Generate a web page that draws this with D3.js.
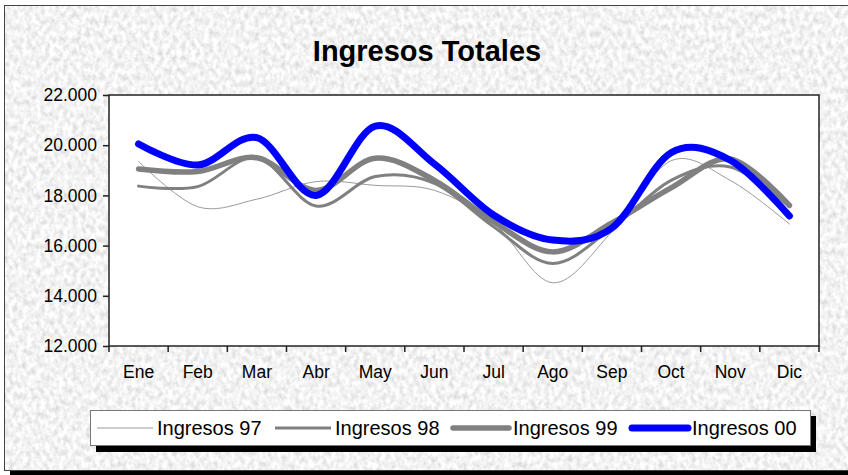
<!DOCTYPE html>
<html>
<head>
<meta charset="utf-8">
<script src="https://d3js.org/d3.v7.min.js"></script>
<style>
	body { margin: 0; background: #ffffff; }
	svg { display: block; font-family: "Liberation Sans", Arial, sans-serif; }
</style>
</head>
<body>
<script>

var meses = ["Ene", "Feb", "Mar", "Abr", "May", "Jun", "Jul", "Ago", "Sep", "Oct", "Nov", "Dic"];

var ingresos97 = [19350, 17550, 17850, 18550, 18400, 18200, 16900, 14520, 16550, 19380, 18600, 16860];
var ingresos98 = [18370, 18350, 19500, 17580, 18750, 18480, 16750, 15290, 16700, 18600, 19130, 17550];
var ingresos99 = [19050, 18950, 19500, 18200, 19480, 18600, 16950, 15750, 16900, 18300, 19450, 17600];
var ingresos00 = [20050, 19210, 20300, 18000, 20760, 19250, 17220, 16220, 16700, 19700, 19400, 17180];

var yTicks = [12000, 14000, 16000, 18000, 20000, 22000];

var series = [
	{ name: "Ingresos 97", values: ingresos97, color: "#9a9a9a", width: 1 },
	{ name: "Ingresos 98", values: ingresos98, color: "#808080", width: 3 },
	{ name: "Ingresos 99", values: ingresos99, color: "#808080", width: 5.5 },
	{ name: "Ingresos 00", values: ingresos00, color: "#0000ff", width: 7 }
];

var W = 848, H = 475;
var plot = { left: 109, top: 95, right: 819, bottom: 346 };

var svg = d3.select("body").append("svg")
	.attr("width", W)
	.attr("height", H);

// fondo con textura
var defs = svg.append("defs");
var filtro = defs.append("filter")
	.attr("id", "marmol")
	.attr("x", 0).attr("y", 0)
	.attr("width", "100%").attr("height", "100%");
filtro.append("feTurbulence")
	.attr("type", "fractalNoise")
	.attr("baseFrequency", "0.22 0.16")
	.attr("numOctaves", 3)
	.attr("seed", 7)
	.attr("result", "ruido");
filtro.append("feColorMatrix")
	.attr("in", "ruido")
	.attr("type", "matrix")
	.attr("values", "0.55 0 0 0 0.62  0.55 0 0 0 0.62  0.55 0 0 0 0.62  0 0 0 0 1")
	.attr("result", "gris");
filtro.append("feColorMatrix")
	.attr("in", "gris")
	.attr("type", "saturate")
	.attr("values", 0);

svg.append("rect")
	.attr("x", 10).attr("y", 470)
	.attr("width", W - 10).attr("height", 5)
	.style("fill", "#000");

svg.append("rect")
	.attr("x", 4).attr("y", 5)
	.attr("width", W)
	.attr("height", 466)
	.attr("filter", "url(#marmol)");

svg.append("rect")
	.attr("x", 4.5).attr("y", 5.5)
	.attr("width", W)
	.attr("height", 465)
	.style("fill", "none")
	.style("stroke", "#444")
	.style("stroke-width", 1);

svg.append("text")
	.attr("x", 427)
	.attr("y", 61)
	.attr("text-anchor", "middle")
	.style("font-size", "29px")
	.style("font-weight", "bold")
	.text("Ingresos Totales");

var x = d3.scaleBand()
	.domain(meses)
	.range([plot.left, plot.right]);

var y = d3.scaleLinear()
	.domain([12000, 22000])
	.range([plot.bottom, plot.top]);

svg.append("rect")
	.attr("x", plot.left)
	.attr("y", plot.top)
	.attr("width", plot.right - plot.left)
	.attr("height", plot.bottom - plot.top)
	.style("fill", "white")
	.style("stroke", "#222")
	.style("stroke-width", 1.5);

var ejeY = svg.append("g")
	.attr("transform", "translate(" + plot.left + ",0)")
	.call(d3.axisLeft(y)
		.tickValues(yTicks)
		.tickSize(6)
		.tickPadding(6)
		.tickFormat(function(d)
		{
			return d3.format(".3f")(d / 1000);
		}));

var ejeX = svg.append("g")
	.attr("transform", "translate(0," + plot.bottom + ")")
	.call(d3.axisBottom(x)
		.tickSize(0)
		.tickPadding(20));

// marcas entre categorias
var bordes = meses.map(function(d)
{
	return x(d);
}).concat([plot.right]);

ejeX.selectAll("line.borde")
	.data(bordes)
	.enter()
	.append("line")
	.attr("class", "borde")
	.attr("x1", function(d) { return d; })
	.attr("x2", function(d) { return d; })
	.attr("y1", 0)
	.attr("y2", 6)
	.style("stroke", "#222")
	.style("stroke-width", 1.5);

svg.selectAll(".domain").remove();
svg.selectAll(".tick line").style("stroke", "#222").style("stroke-width", 1.5);
svg.selectAll(".tick text")
	.style("font-size", "17.5px")
	.style("font-family", "'Liberation Sans', Arial, sans-serif")
	.style("fill", "#000");

var linea = d3.line()
	.x(function(d, i)
	{
		return x(meses[i]) + x.bandwidth() / 2;
	})
	.y(function(d)
	{
		return y(d);
	})
	.curve(d3.curveCardinal.tension(0));

svg.selectAll("path.serie")
	.data(series)
	.enter()
	.append("path")
	.attr("class", "serie")
	.attr("d", function(d)
	{
		return linea(d.values);
	})
	.style("fill", "none")
	.style("stroke", function(d) { return d.color; })
	.style("stroke-width", function(d) { return d.width; })
	.style("stroke-linecap", "round")
	.style("stroke-linejoin", "round");

// leyenda
var leyenda = svg.append("g");

leyenda.append("rect")
	.attr("x", 96).attr("y", 416)
	.attr("width", 720).attr("height", 36)
	.style("fill", "#000");

leyenda.append("rect")
	.attr("x", 90.5).attr("y", 410.5)
	.attr("width", 720).attr("height", 35)
	.style("fill", "white")
	.style("stroke", "#777")
	.style("stroke-width", 1);

var posLeyenda = [97, 275, 453, 632];

var items = leyenda.selectAll("g.item")
	.data(series)
	.enter()
	.append("g")
	.attr("class", "item")
	.attr("transform", function(d, i)
	{
		return "translate(" + posLeyenda[i] + ",428)";
	});

items.append("line")
	.attr("x1", 0)
	.attr("x2", 56)
	.style("stroke", function(d) { return d.color; })
	.style("stroke-width", function(d) { return d.width; })
	.style("stroke-linecap", function(d, i) { return i > 1 ? "round" : "butt"; });

items.append("text")
	.attr("x", 60)
	.attr("y", 7)
	.style("font-size", "20px")
	.text(function(d)
	{
		return d.name;
	});

</script>
</body>
</html>
